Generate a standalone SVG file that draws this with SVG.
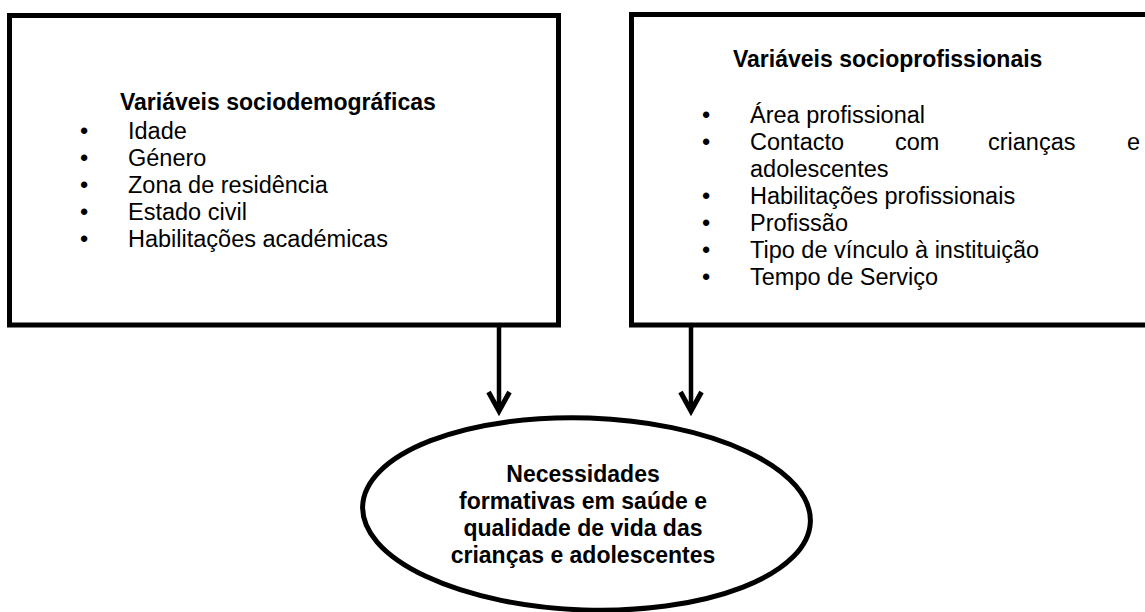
<svg xmlns="http://www.w3.org/2000/svg" width="1145" height="612" viewBox="0 0 1145 612">
<defs>
<style>
.box{fill:#fff;stroke:#000;stroke-width:5;stroke-linejoin:miter}
.t{font-family:"Liberation Sans",Arial,sans-serif;font-size:23.5px;fill:#000}
.b{font-weight:bold;font-size:23px}
.c{text-anchor:middle}
.conn{fill:none;stroke:#000;stroke-width:4.5}
.head{fill:none;stroke:#000;stroke-width:5;stroke-linejoin:miter;stroke-miterlimit:10}
</style>
</defs>
<rect width="1145" height="612" fill="#fff"/>
<g id="node-sociodemograficas">
<rect class="box" x="9.5" y="15.5" width="549" height="309.5"/>
<text class="t b" x="120" y="110">Variáveis sociodemográficas</text>
<text class="t" x="80" y="138.5">•</text><text class="t" x="128" y="138.5">Idade</text>
<text class="t" x="80" y="165.5">•</text><text class="t" x="128" y="165.5">Género</text>
<text class="t" x="80" y="192.5">•</text><text class="t" x="128" y="192.5">Zona de residência</text>
<text class="t" x="80" y="219.5">•</text><text class="t" x="128" y="219.5">Estado civil</text>
<text class="t" x="80" y="246.5">•</text><text class="t" x="128" y="246.5">Habilitações académicas</text>
</g>
<g id="node-socioprofissionais">
<rect class="box" x="631.5" y="14.5" width="540" height="310.5"/>
<text class="t b" x="733" y="67">Variáveis socioprofissionais</text>
<text class="t" x="702" y="123">•</text><text class="t" x="750" y="123">Área profissional</text>
<text class="t" x="702" y="150">•</text><text class="t" y="150"><tspan x="750">Contacto</tspan><tspan x="895">com</tspan><tspan x="988">crianças</tspan><tspan x="1127">e</tspan></text>
<text class="t" x="750" y="177">adolescentes</text>
<text class="t" x="702" y="204">•</text><text class="t" x="750" y="204">Habilitações profissionais</text>
<text class="t" x="702" y="231">•</text><text class="t" x="750" y="231">Profissão</text>
<text class="t" x="702" y="258">•</text><text class="t" x="750" y="258">Tipo de vínculo à instituição</text>
<text class="t" x="702" y="285">•</text><text class="t" x="750" y="285">Tempo de Serviço</text>
</g>
<g id="connectors">
<line class="conn" x1="499" y1="327" x2="499" y2="410"/>
<polyline class="head" points="488.5,392 499,411 509.5,392"/>
<line class="conn" x1="691" y1="327" x2="691" y2="410"/>
<polyline class="head" points="680.5,392 691,411 701.5,392"/>
</g>
<g id="node-necessidades">
<ellipse class="box" cx="586.5" cy="514" rx="224" ry="96" transform="rotate(2 586.5 514)"/>
<text class="t b c" x="583" y="482">Necessidades</text>
<text class="t b c" x="583" y="509">formativas em saúde e</text>
<text class="t b c" x="583" y="536">qualidade de vida das</text>
<text class="t b c" x="583" y="563">crianças e adolescentes</text>
</g>
</svg>
